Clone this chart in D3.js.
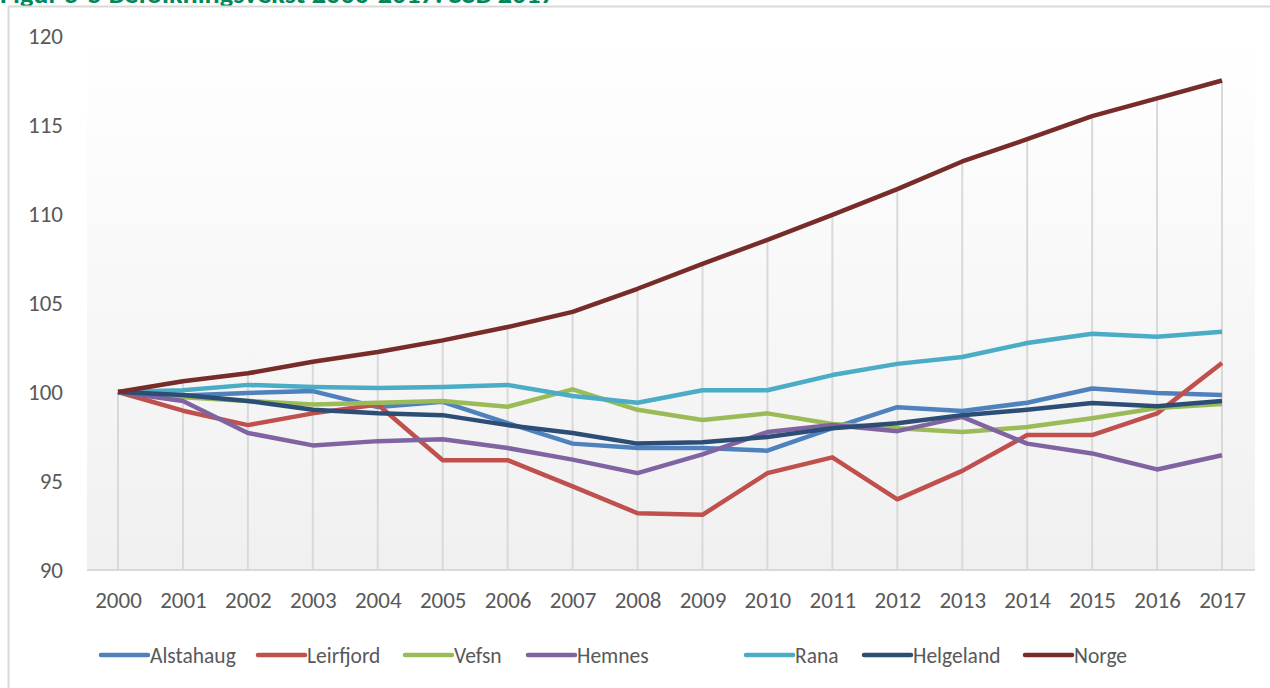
<html>
<head>
  <title>Befolkningsvekst</title>
  <script src='https://d3js.org/d3.v7.min.js'></script>
	<meta http-equiv="content-type" content="text/html;charset=UTF-8">
	<style>
		body { margin: 0; background: #fff; overflow: hidden; }
		#chart { display: block; }
		text { font-family: Calibri, Lato, "Liberation Sans", Arial, sans-serif; }
	</style>
</head>
<body>
	<svg id="chart"></svg>
	<script>
		var years = [2000, 2001, 2002, 2003, 2004, 2005, 2006, 2007, 2008, 2009, 2010, 2011, 2012, 2013, 2014, 2015, 2016, 2017];
		var yTicks = [90, 95, 100, 105, 110, 115, 120];

		var alstahaug = [100, 99.8, 99.95, 100.05, 99.15, 99.45, 98.25, 97.1, 96.85, 96.85, 96.7, 97.97, 99.15, 98.93, 99.4, 100.2, 99.95, 99.83];
		var leirfjord = [100, 98.95, 98.14, 98.8, 99.3, 96.17, 96.17, 94.7, 93.19, 93.1, 95.44, 96.33, 93.97, 95.57, 97.58, 97.58, 98.8, 101.63];
		var vefsn = [100, 99.7, 99.5, 99.3, 99.4, 99.5, 99.17, 100.15, 99.0, 98.43, 98.8, 98.2, 97.97, 97.75, 98.03, 98.53, 99.1, 99.32];
		var hemnes = [100, 99.5, 97.7, 97.0, 97.24, 97.35, 96.85, 96.2, 95.44, 96.5, 97.75, 98.14, 97.8, 98.6, 97.1, 96.55, 95.65, 96.45];
		var rana = [100, 100.1, 100.4, 100.28, 100.22, 100.28, 100.4, 99.78, 99.4, 100.1, 100.1, 100.95, 101.58, 101.97, 102.75, 103.27, 103.1, 103.38];
		var helgeland = [100, 99.83, 99.5, 99.0, 98.8, 98.7, 98.14, 97.7, 97.1, 97.18, 97.47, 97.97, 98.25, 98.7, 99.0, 99.38, 99.2, 99.5];
		var norge = [100, 100.6, 101.05, 101.7, 102.25, 102.9, 103.65, 104.5, 105.8, 107.2, 108.55, 109.95, 111.4, 112.95, 114.2, 115.5, 116.5, 117.5];

		var seriesNames = ["Alstahaug", "Leirfjord", "Vefsn", "Hemnes", "Rana", "Helgeland", "Norge"];
		var seriesColors = ["#4f81bd", "#c0504d", "#9bbb59", "#8064a2", "#4bacc6", "#2c4d75", "#772c2a"];
		var seriesValues = [alstahaug, leirfjord, vefsn, hemnes, rana, helgeland, norge];

		var width = 1270, height = 688;
		var svg = d3.select('#chart')
			.attr('width', width)
			.attr('height', height);

		// gradient plot background
		var defs = svg.append('defs');
		var grad = defs.append('linearGradient')
			.attr('id', 'plotFill')
			.attr('x1', 0).attr('y1', 0).attr('x2', 0).attr('y2', 1);
		grad.append('stop').attr('offset', '0%').attr('stop-color', '#ffffff');
		grad.append('stop').attr('offset', '100%').attr('stop-color', '#f0f0f0');

		// title, clipped at the top of the page like in the source document
		svg.append('text')
			.attr('x', 0)
			.attr('y', 3)
			.attr('fill', '#00875a')
			.attr('font-weight', 'bold')
			.attr('font-size', 26)
			.attr('textLength', 555)
			.attr('lengthAdjust', 'spacingAndGlyphs')
			.text('Figur 5-5 Befolkningsvekst 2000-2017. SSB 2017');

		// chart frame
		svg.append('rect')
			.attr('x', 8.5)
			.attr('y', 6.5)
			.attr('width', 1300)
			.attr('height', 720)
			.attr('fill', 'none')
			.attr('stroke', '#d9d9d9')
			.attr('stroke-width', 2);

		var x = d3.scalePoint()
			.domain(years)
			.range([118, 1222]);
		var y = d3.scaleLinear()
			.domain([90, 120])
			.range([570, 36]);

		svg.append('rect')
			.attr('x', 87)
			.attr('y', 36)
			.attr('width', 1255 - 87)
			.attr('height', 570 - 36)
			.attr('fill', 'url(#plotFill)');

		// drop lines from the top series down to the axis
		svg.append('g')
			.selectAll('line')
			.data(years)
			.join('line')
			.attr('x1', d => x(d))
			.attr('x2', d => x(d))
			.attr('y1', (d, i) => y(d3.max(seriesValues, s => s[i])))
			.attr('y2', y(90))
			.attr('stroke', '#d9d9d9')
			.attr('stroke-width', 2);

		// x axis
		var xAxis = svg.append('g')
			.attr('transform', 'translate(0,' + y(90) + ')')
			.call(d3.axisBottom(x).tickSize(0).tickPadding(22));
		xAxis.select('.domain').remove();
		xAxis.append('line')
			.attr('x1', 87).attr('x2', 1255)
			.attr('stroke', '#d9d9d9')
			.attr('stroke-width', 2);
		xAxis.selectAll('text')
			.attr('font-size', 23)
			.attr('fill', '#595959')
			.style('font-family', 'Calibri, Lato, "Liberation Sans", Arial, sans-serif');

		// y axis
		var yAxis = svg.append('g')
			.attr('transform', 'translate(63,0)')
			.call(d3.axisLeft(y).tickValues(yTicks).tickSize(0).tickPadding(0));
		yAxis.select('.domain').remove();
		yAxis.selectAll('text')
			.attr('font-size', 23)
			.attr('fill', '#595959')
			.style('font-family', 'Calibri, Lato, "Liberation Sans", Arial, sans-serif');

		// series
		var line = d3.line()
			.x((d, i) => x(years[i]))
			.y(d => y(d));

		svg.append('g')
			.selectAll('path')
			.data(seriesValues)
			.join('path')
			.attr('d', line)
			.attr('fill', 'none')
			.attr('stroke', (d, i) => seriesColors[i])
			.attr('stroke-width', 4.5)
			.attr('stroke-linejoin', 'round');

		// legend
		var legendX = [101, 258, 405, 528, 746, 864, 1025];
		var legend = svg.append('g')
			.selectAll('g')
			.data(seriesNames)
			.join('g')
			.attr('transform', (d, i) => 'translate(' + legendX[i] + ',655)');
		legend.append('line')
			.attr('x1', 0).attr('x2', 47)
			.attr('stroke', (d, i) => seriesColors[i])
			.attr('stroke-width', 4.5)
			.attr('stroke-linecap', 'round');
		legend.append('text')
			.attr('x', 49)
			.attr('dy', '0.35em')
			.attr('font-size', 21.5)
			.attr('fill', '#595959')
			.text(d => d);
	</script>
</body>
</html>
